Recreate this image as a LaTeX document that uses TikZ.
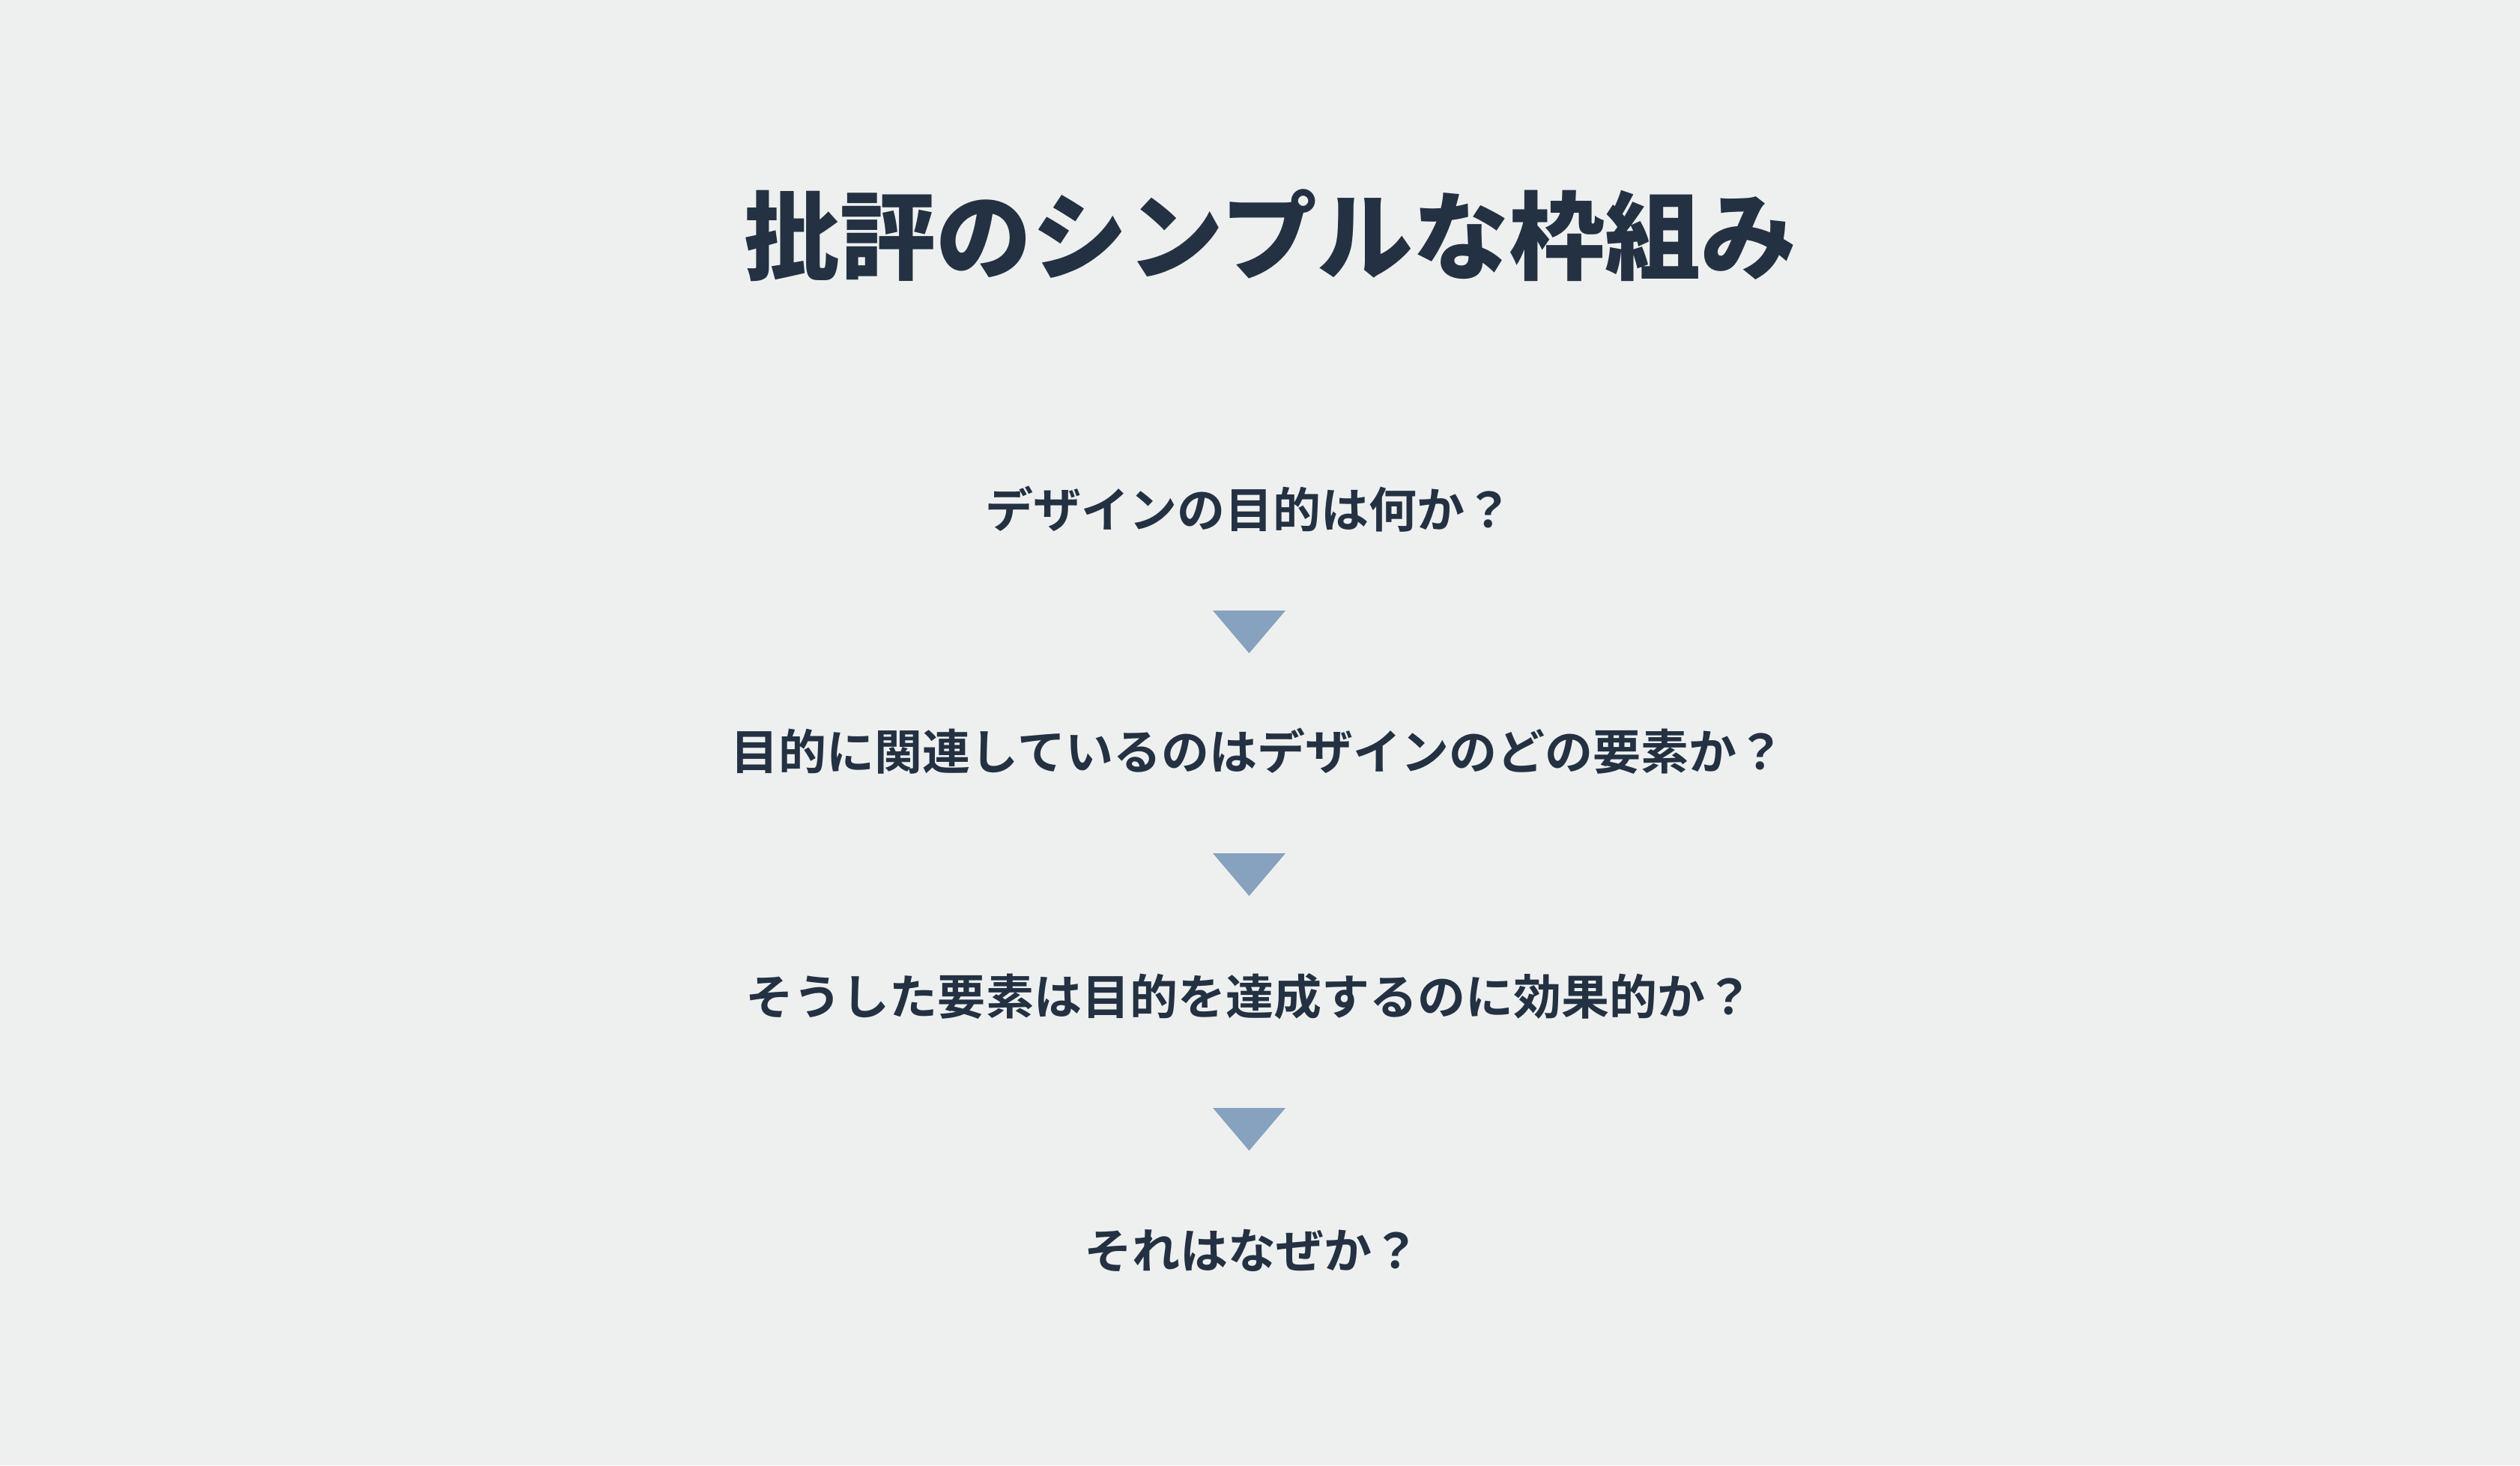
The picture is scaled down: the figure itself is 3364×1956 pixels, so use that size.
\documentclass[tikz,border=0pt]{standalone}
\usepackage{fontspec}
\setmainfont{Noto Sans CJK JP}[BoldFont={Noto Sans CJK JP Bold}]
\newfontfamily\headfont{Noto Sans CJK JP Black}
\usetikzlibrary{positioning}
\definecolor{ink}{HTML}{233142}
\definecolor{arrowblue}{HTML}{87A2BE}
\definecolor{paper}{HTML}{EEF0F0}
\tikzset{headline/.style={font=\fontsize{36.4}{40}\selectfont\headfont, text=ink, inner sep=0pt, anchor=base}}
\tikzset{question/.style={font=\fontsize{18.2}{22}\selectfont\bfseries, text=ink, inner sep=0pt, anchor=base}}
\tikzset{down/.style={fill=arrowblue}}

\begin{document}
\begin{tikzpicture}[x=0.01cm,y=-0.01cm]
\fill[paper] (0,0) rectangle (3364,1956);
\useasboundingbox (0,0) rectangle (3364,1956);

\node[headline] (head) at (1696,363) {批評のシンプルな枠組み};

\node[question] (q1) at (1667,704) {デザインの目的は何か？};
\node[question] (q2) at (1679,1027) {目的に関連しているのはデザインのどの要素か？};
\node[question] (q3) at (1668,1354) {そうした要素は目的を達成するのに効果的か？};
\node[question] (q4) at (1671,1693) {それはなぜか？};

% arrows between the questions
\foreach \y in {815,1139,1479}
  \fill[down] (1619,\y) -- (1716,\y) -- (1667.5,\y+57) -- cycle;
\end{tikzpicture}
\end{document}
